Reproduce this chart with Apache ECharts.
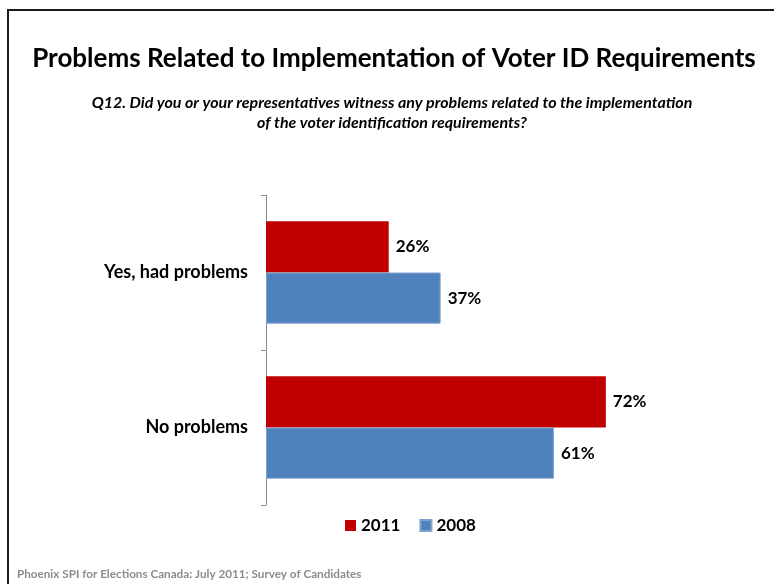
<!DOCTYPE html>
<html>
<head>
<meta charset="utf-8">
<script src="https://cdn.jsdelivr.net/npm/echarts@6/dist/echarts.min.js"></script>
<style>
  html, body { margin: 0; padding: 0; background: #fff; }
  #chart { width: 774px; height: 584px; }
</style>
</head>
<body>
<div id="chart"></div>
<script>
// Survey answers and percentages by year
const categories = ['Yes, had problems', 'No problems'];
const values2011 = [26, 72];
const values2008 = [37, 61];
const seriesNames = ['2011', '2008'];

const titleText = 'Problems Related to Implementation of Voter ID Requirements';
const questionText = 'Q12. Did you or your representatives witness any problems related to the implementation\nof the voter identification requirements?';
const sourceText = 'Phoenix SPI for Elections Canada: July 2011; Survey of Candidates';

const FONT = 'Lato, "Open Sans", sans-serif';

const chart = echarts.init(document.getElementById('chart'), null, { renderer: 'canvas' });

const barLabel = {
  show: true,
  position: 'right',
  distance: 7,
  formatter: '{c}%',
  color: '#000',
  fontFamily: FONT,
  fontWeight: 'bold',
  fontSize: 17
};

chart.setOption({
  backgroundColor: '#fff',
  animation: false,
  title: [
    {
      text: titleText,
      left: 389,
      top: 41,
      textAlign: 'center',
      textStyle: { fontFamily: FONT, fontWeight: 'bold', fontSize: 26, color: '#000' }
    },
    {
      text: questionText,
      left: 387,
      top: 88,
      textAlign: 'center',
      textStyle: {
        fontFamily: FONT, fontWeight: 'bold', fontStyle: 'italic',
        fontSize: 16, lineHeight: 20, color: '#000'
      }
    },
    {
      text: sourceText,
      left: 12,
      top: 563,
      textStyle: { fontFamily: FONT, fontWeight: 'bold', fontSize: 11.7, color: '#8c8c8c' }
    }
  ],
  legend: {
    data: seriesNames,
    left: 340,
    top: 512,
    itemWidth: 11,
    itemHeight: 11,
    itemGap: 19,
    icon: 'rect',
    textStyle: { fontFamily: FONT, fontWeight: 'bold', fontSize: 17, color: '#000' }
  },
  grid: { left: 266, top: 195, width: 472, height: 310, containLabel: false },
  xAxis: {
    type: 'value',
    min: 0,
    max: 100,
    show: false
  },
  yAxis: {
    type: 'category',
    data: categories,
    inverse: true,
    axisLine: { show: true, lineStyle: { color: '#8c8c8c', width: 1 } },
    axisTick: { show: true, length: 5, lineStyle: { color: '#8c8c8c' } },
    axisLabel: {
      margin: 18,
      color: '#000',
      fontFamily: FONT,
      fontWeight: 'bold',
      fontSize: 18
    }
  },
  series: [
    {
      name: seriesNames[0],
      type: 'bar',
      data: values2011,
      barGap: '0%',
      barCategoryGap: '34%',
      itemStyle: { color: '#C00000' },
      label: barLabel
    },
    {
      name: seriesNames[1],
      type: 'bar',
      data: values2008,
      barGap: '0%',
      barCategoryGap: '34%',
      itemStyle: { color: '#4F81BD', borderColor: '#7FA3D0', borderWidth: 1 },
      label: barLabel
    }
  ],
  graphic: [
    {
      type: 'polyline',
      shape: { points: [[8, 584], [8, 10], [774, 10]] },
      style: { stroke: '#1a1a1a', lineWidth: 2, fill: null }
    }
  ]
});
</script>
</body>
</html>
